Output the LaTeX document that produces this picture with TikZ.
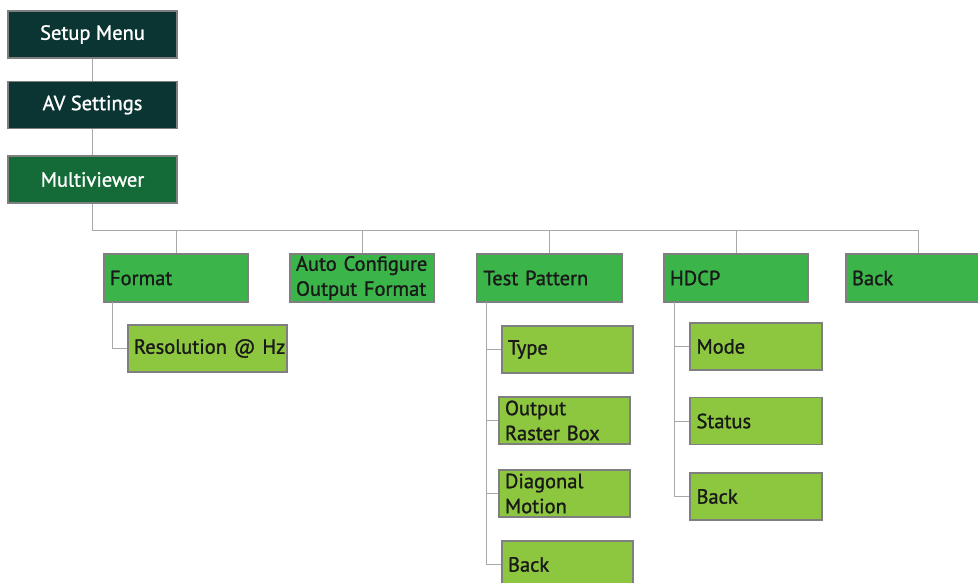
\documentclass[tikz,border=0pt]{standalone}
\usepackage{fontspec}
\setmainfont{PT Sans}
\newfontfamily\boxfont{PT Sans}[FakeBold=1.2]
\newcommand\boxstyle{\fontsize{20.5}{25}\boxfont\selectfont\hyphenpenalty=10000\relax\exhyphenpenalty=10000\relax\hbadness=10000\relax\hfuzz=50pt\relax}
\definecolor{darkteal}{HTML}{0B3533}
\definecolor{mvgreen}{HTML}{156B38}
\definecolor{midgreen}{HTML}{3BB54A}
\definecolor{lightgreen}{HTML}{8DC63F}
\definecolor{boxborder}{HTML}{7F7F7F}
\definecolor{linegray}{HTML}{A8A8A8}
\begin{document}
\begin{tikzpicture}[x=1pt,y=-1pt,
  basebox/.style={draw=boxborder,line width=1.4pt,rectangle,inner ysep=0pt,inner xsep=6pt,
    font=\boxstyle},
  topbox/.style={basebox,fill=darkteal,text=white,minimum width=169pt,minimum height=47pt,align=center},
  mvbox/.style={topbox,fill=mvgreen},
  lvtwo/.style={basebox,fill=midgreen,text=black!90,minimum width=144pt,minimum height=48pt,
    text width=132pt,align=left},
  lvthree/.style={basebox,fill=lightgreen,text=black!90,minimum width=131pt,minimum height=47pt,
    text width=119pt,align=left},
  conn/.style={draw=linegray,line width=1pt}]
\useasboundingbox (0,0) rectangle (978,582);
% top chain
\node[topbox] (setup) at (92.5,34.5) {Setup Menu};
\node[topbox] (av) at (92.5,105) {AV Settings};
\node[mvbox] (mv) at (92.5,179.5) {Multiviewer};
% level 2
\node[lvtwo] (fmt) at (176,278) {Format};
\node[lvtwo] (auto) at (362,278) {Auto~Configure\\Output~Format};
\node[lvtwo,minimum width=145pt] (tp) at (549.5,278) {Test Pattern};
\node[lvtwo] (hdcp) at (736,278) {HDCP};
\node[lvtwo] (back) at (918,278) {Back};
% level 3
\node[lvthree,minimum width=159pt,text width=147pt] (res) at (207.5,348.5) {Resolution~@~Hz};
\node[lvthree] (type) at (567.5,349.5) {Type};
\node[lvthree] (orb) at (564.5,420.5) {Output\\Raster~Box};
\node[lvthree] (dm) at (564.5,493.5) {Diagonal\\Motion};
\node[lvthree] (tpback) at (567.5,564.5) {Back};
\node[lvthree,minimum width=132pt] (mode) at (756,346.5) {Mode};
\node[lvthree,minimum width=132pt] (status) at (756,421) {Status};
\node[lvthree,minimum width=132pt] (hback) at (756,496.5) {Back};
% connectors
\coordinate (bus) at (92.5,230);
\draw[conn] (setup.south) -- (av.north);
\draw[conn] (av.south) -- (mv.north);
\draw[conn] (mv.south) -- (bus) -- (bus -| back.north);
\foreach \n in {fmt,auto,tp,hdcp,back} {\draw[conn] (\n.north) -- (\n.north |- bus);}
\coordinate (fmtT) at (112,302);
\draw[conn] (fmtT) |- (res.west);
\coordinate (tpT) at (486,302);
\draw[conn] (tpT) |- (tpback.west);
\foreach \n in {type,orb,dm} {\draw[conn] (tpT |- \n.west) -- (\n.west);}
\coordinate (hdT) at (674,302);
\draw[conn] (hdT) |- (hback.west);
\foreach \n in {mode,status} {\draw[conn] (hdT |- \n.west) -- (\n.west);}
\end{tikzpicture}
\end{document}
